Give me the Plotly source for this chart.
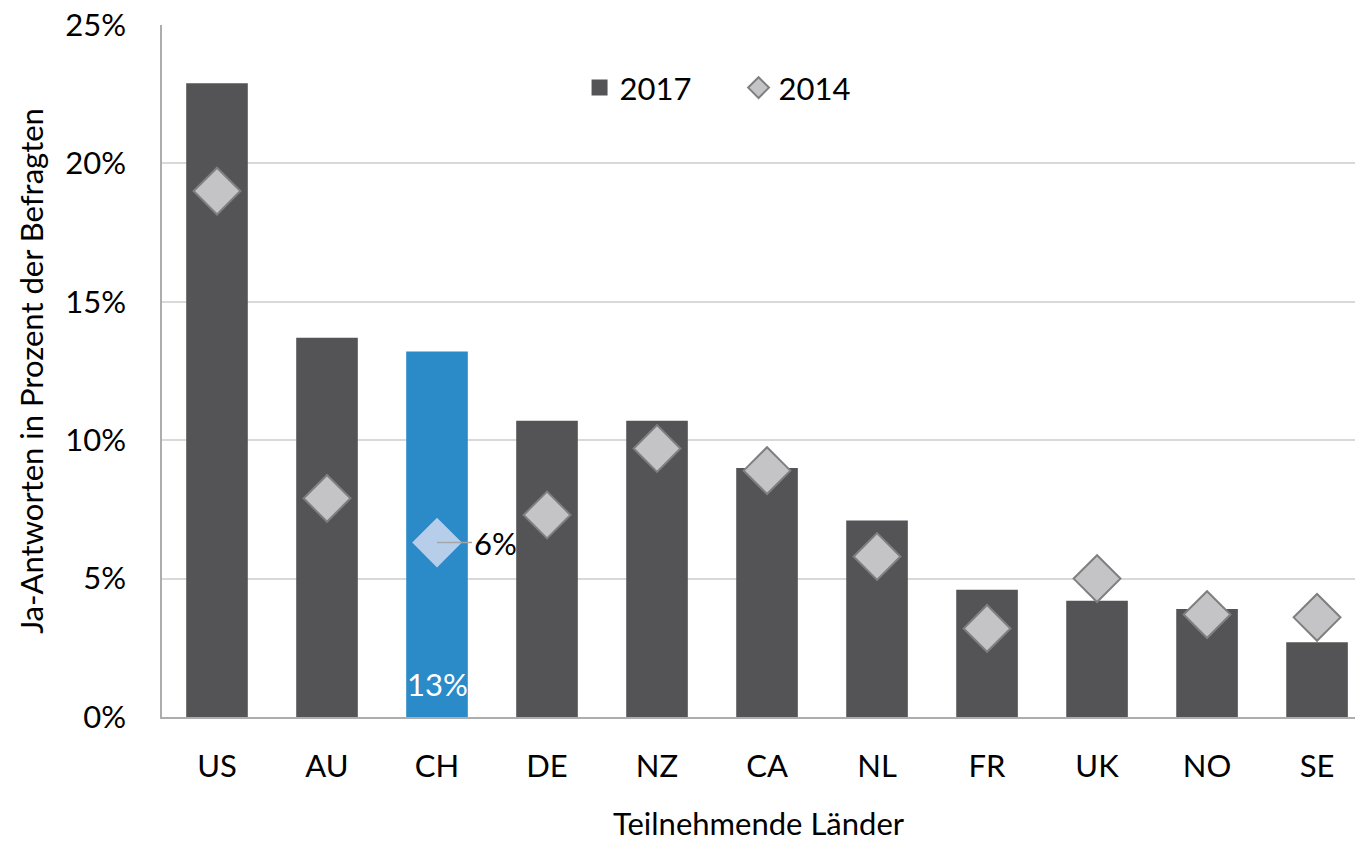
import plotly.graph_objects as go

countries = ["US", "AU", "CH", "DE", "NZ", "CA", "NL", "FR", "UK", "NO", "SE"]
y2017 = [0.229, 0.137, 0.132, 0.107, 0.107, 0.090, 0.071, 0.046, 0.042, 0.039, 0.027]
y2014 = [0.190, 0.079, 0.063, 0.073, 0.097, 0.089, 0.058, 0.032, 0.050, 0.037, 0.036]
y_ticks = [0, 0.05, 0.10, 0.15, 0.20, 0.25]
highlight = "CH"

bar_dark = "#545456"
bar_blue = "#2B8AC8"
dia_fill = "#C4C4C6"
dia_line = "#7F7F7F"
dia_blue = "#B7CEEA"

bar_colors = [bar_blue if c == highlight else bar_dark for c in countries]
dia_colors = [dia_blue if c == highlight else dia_fill for c in countries]
dia_lines = [dia_blue if c == highlight else dia_line for c in countries]

FONT = "Lato, 'Open Sans', sans-serif"
FS = 31

fig = go.Figure()
fig.add_trace(go.Bar(
    x=countries, y=y2017, name="2017", showlegend=False,
    marker=dict(color=bar_colors, line=dict(width=0)),
    width=0.56,
))
# legend entry for the bars (square symbol, as in the reference)
fig.add_trace(go.Scatter(
    x=[None], y=[None], name="2017", mode="markers",
    marker=dict(symbol="square", size=16, color=bar_dark, line=dict(width=0)),
))
fig.add_trace(go.Scatter(
    x=countries, y=y2014, name="2014", mode="markers",
    marker=dict(symbol="diamond", size=36, color=dia_colors,
                line=dict(color=dia_lines, width=2)),
))

hi = countries.index(highlight)
fig.add_annotation(
    x=highlight, y=y2014[hi], text=f"{y2014[hi]:.0%}",
    showarrow=True, arrowhead=0, arrowwidth=1.5, arrowcolor="#A6A6A6",
    ax=58, ay=0, standoff=0, xanchor="center",
    font=dict(family=FONT, size=FS, color="black"),
)
fig.add_annotation(
    x=highlight, y=0, text=f"{y2017[hi]:.0%}", showarrow=False,
    yanchor="bottom", yshift=12,
    font=dict(family=FONT, size=FS, color="white"),
)

fig.update_layout(
    width=1355, height=842,
    margin=dict(l=162, r=0, t=25, b=125, autoexpand=False),
    paper_bgcolor="white", plot_bgcolor="white",
    font=dict(family=FONT, size=FS, color="black"),
    showlegend=True,
    legend=dict(orientation="h", x=0.35, y=0.909, xanchor="left", yanchor="middle",
                font=dict(family=FONT, size=FS), bgcolor="rgba(0,0,0,0)",
                itemwidth=30, itemsizing="trace", itemclick=False,
                entrywidth=114, entrywidthmode="pixels"),
    xaxis=dict(
        range=[-0.5, 10.345], showgrid=False, showline=True, linecolor="#ADADAD",
        linewidth=2, ticks="", ticklabelstandoff=21, automargin=False,
        tickfont=dict(family=FONT, size=FS),
        title=dict(text="Teilnehmende Länder", font=dict(family=FONT, size=FS), standoff=30),
    ),
    yaxis=dict(
        range=[0, 0.25], tickvals=y_ticks, tickformat=".0%", showgrid=True,
        gridcolor="#D9D9D9", gridwidth=1.5, showline=True, linecolor="#ADADAD", linewidth=1.5,
        zeroline=False, ticks="", ticklabelstandoff=28, ticklabeloverflow="allow",
        automargin=False,
        tickfont=dict(family=FONT, size=FS),
        title=dict(text="Ja-Antworten in Prozent der Befragten",
                   font=dict(family=FONT, size=FS), standoff=12),
    ),
)

fig.write_html("out.html",
               config={"displayModeBar": False},
               post_script="document.body.style.margin='0';document.body.style.overflow='hidden';")
